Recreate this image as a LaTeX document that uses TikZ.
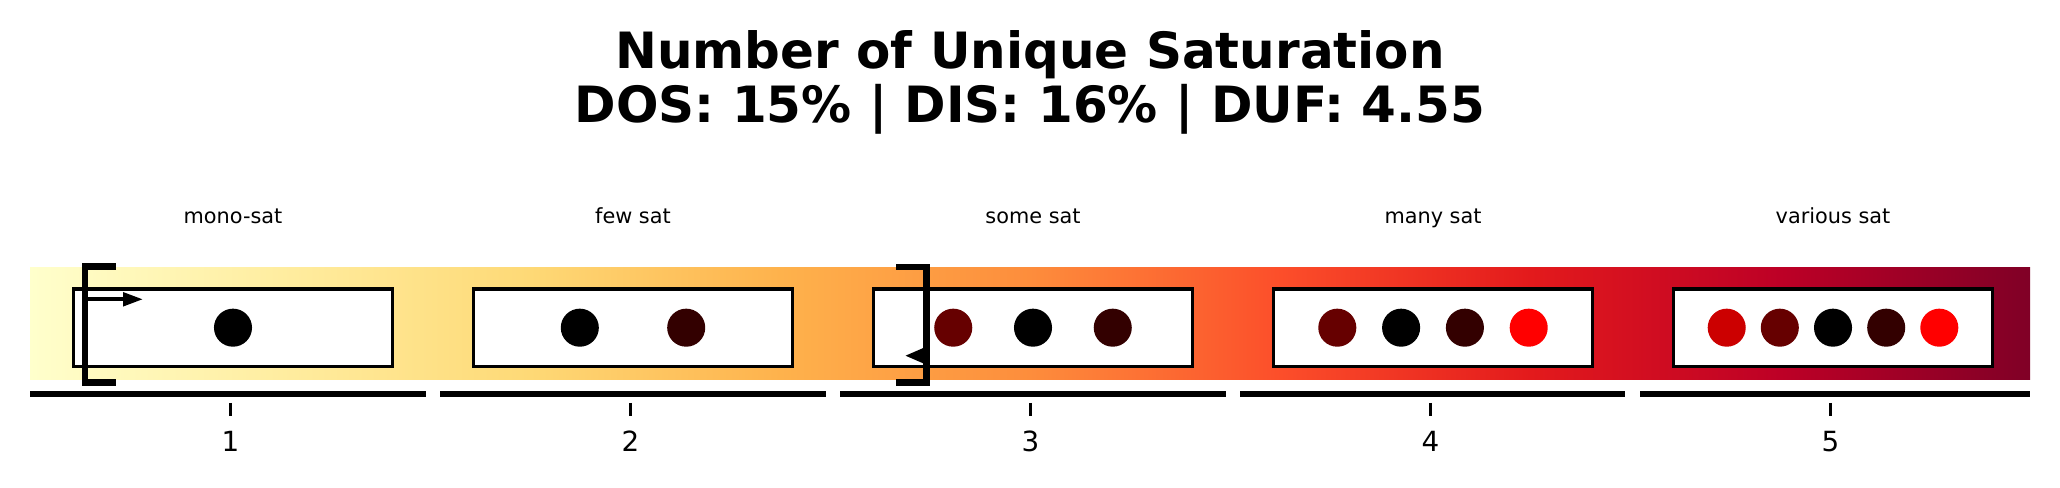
\documentclass[tikz,border=0pt]{standalone}
\usepackage{fontspec}
\setmainfont{DejaVu Sans}
\usetikzlibrary{arrows.meta}
\definecolor{c1}{HTML}{FFFFCC}
\definecolor{c2}{HTML}{FFEDA0}
\definecolor{c3}{HTML}{FED976}
\definecolor{c4}{HTML}{FEB24C}
\definecolor{c5}{HTML}{FD8D3C}
\definecolor{c6}{HTML}{FC4E2A}
\definecolor{c7}{HTML}{E31A1C}
\definecolor{c8}{HTML}{BD0026}
\definecolor{c9}{HTML}{800026}
\definecolor{sat3}{HTML}{330000}
\definecolor{sat6}{HTML}{660000}
\definecolor{satc}{HTML}{CC0000}
\definecolor{satf}{HTML}{FF0000}
\pgfdeclarehorizontalshading{ylorrd}{100bp}{color(0bp)=(c1); color(25bp)=(c1); color(31.25bp)=(c2); color(37.5bp)=(c3); color(43.75bp)=(c4); color(50bp)=(c5); color(56.25bp)=(c6); color(62.5bp)=(c7); color(68.75bp)=(c8); color(75bp)=(c9); color(100bp)=(c9)}
\begin{document}
\begin{tikzpicture}[x=0.36pt,y=-0.36pt,
  catbox/.style={draw=black, fill=white, line width=1.26pt, minimum width=114.84pt, minimum height=27.83pt, inner sep=0pt},
  satdot/.style={circle, fill=#1, minimum size=13.7pt, inner sep=0pt},
  segline/.style={line width=2.1pt},
  tickmark/.style={line width=1pt},
  catlbl/.style={font=\fontsize{7.5}{9}\selectfont, anchor=base, inner sep=0pt},
  ticklbl/.style={font=\fontsize{10}{12}\selectfont, anchor=base, inner sep=0pt},
  titlelbl/.style={font=\fontsize{18}{21.6}\selectfont\bfseries, anchor=base, inner sep=0pt},
  bracket/.style={line width=2.4pt},
  rangearrow/.style={line width=1.44pt}]
\useasboundingbox (0,0) rectangle (2060,488);
% title
\node[titlelbl] (title1) at (1030,69) {Number of Unique Saturation};
\node[titlelbl] (title2) at (1030,123) {DOS: 15\% | DIS: 16\% | DUF: 4.55};
% gradient band
\shade[shading=ylorrd] (30,268) rectangle (2030,380);
% boxes and labels
\foreach \k/\lbl in {0/mono-sat,1/few sat,2/some sat,3/many sat,4/various sat}{
  \node[catbox] (box\k) at ({233+400*\k},327.7) {};
  \node[catlbl] (lbl\k) at ({233+400*\k},223.5) {\lbl};
  \node[ticklbl] (num\k) at ({230.5+400*\k},451.7) {\pgfmathparse{int(\k+1)}\pgfmathresult};
  \coordinate (tka\k) at ({230.5+400*\k},403);
  \coordinate (tkb\k) at ({230.5+400*\k},416);
  \draw[tickmark] (tka\k) -- (tkb\k);
}
% dots
\node[satdot=black] (d01) at (233,327.7) {};
\node[satdot=black] (d11) at (579.8,327.7) {};
\node[satdot=sat3] (d12) at (686.2,327.7) {};
\node[satdot=sat6] (d21) at (953.25,327.7) {};
\node[satdot=black] (d22) at (1033,327.7) {};
\node[satdot=sat3] (d23) at (1112.75,327.7) {};
\node[satdot=sat6] (d31) at (1337.3,327.7) {};
\node[satdot=black] (d32) at (1401.1,327.7) {};
\node[satdot=sat3] (d33) at (1464.9,327.7) {};
\node[satdot=satf] (d34) at (1528.7,327.7) {};
\node[satdot=satc] (d41) at (1726.7,327.7) {};
\node[satdot=sat6] (d42) at (1779.8,327.7) {};
\node[satdot=black] (d43) at (1833,327.7) {};
\node[satdot=sat3] (d44) at (1886.2,327.7) {};
\node[satdot=satf] (d45) at (1939.3,327.7) {};
% axis segments
\coordinate (sa0) at (30,393.7);   \coordinate (sb0) at (426,393.7);
\coordinate (sa1) at (440,393.7);  \coordinate (sb1) at (826,393.7);
\coordinate (sa2) at (840,393.7);  \coordinate (sb2) at (1226,393.7);
\coordinate (sa3) at (1240,393.7); \coordinate (sb3) at (1625,393.7);
\coordinate (sa4) at (1640,393.7); \coordinate (sb4) at (2030,393.7);
\foreach \k in {0,...,4}{\draw[segline] (sa\k) -- (sb\k);}
% left bracket with arrow
\coordinate (l1) at (116,266.7); \coordinate (l2) at (85,266.7);
\coordinate (l3) at (85,382.5);  \coordinate (l4) at (116,382.5);
\draw[bracket] (l1) -- (l2) -- (l3) -- (l4);
\coordinate (la) at (87,299.3); \coordinate (lb) at (143,299.3);
\draw[rangearrow,-{Triangle[length=7.2pt,width=4.8pt]}] (la) -- (lb);
% right bracket with arrow
\coordinate (r1) at (896,267); \coordinate (r2) at (926.7,267);
\coordinate (r3) at (926.7,382.8); \coordinate (r4) at (896,382.8);
\draw[bracket] (r1) -- (r2) -- (r3) -- (r4);
\coordinate (ra) at (926,355.7); \coordinate (rb) at (905,355.7);
\draw[rangearrow,-{Triangle[length=6.5pt,width=5pt]}] (ra) -- (rb);
\end{tikzpicture}
\end{document}
